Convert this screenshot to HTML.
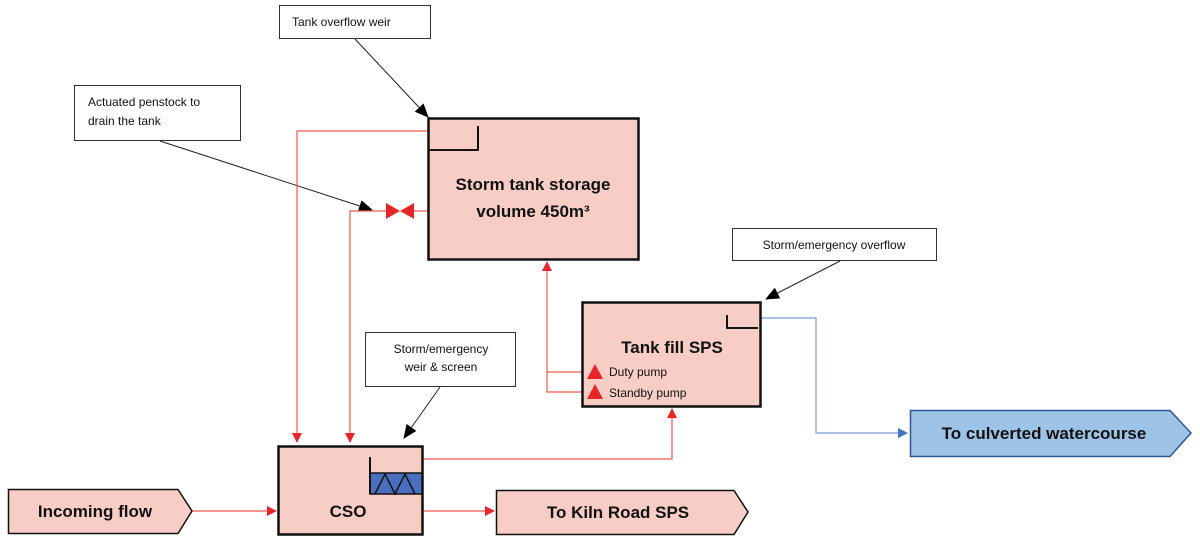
<!DOCTYPE html>
<html><head><style>
body{margin:0;background:#fff;}
svg{display:block;font-family:"Liberation Sans",Calibri,sans-serif;}
.lbl{font-size:12px;fill:#111;}
.big{font-size:17px;font-weight:bold;fill:#111;}
</style></head><body>
<svg width="1200" height="543" viewBox="0 0 1200 543" xmlns="http://www.w3.org/2000/svg">
<defs>
<marker id="ar" markerWidth="10" markerHeight="10" refX="9" refY="5" orient="auto" markerUnits="userSpaceOnUse"><path d="M0,0 L10,5 L0,10 z" fill="#e8262a"/></marker>
<marker id="ab" markerWidth="14" markerHeight="12" refX="13" refY="6" orient="auto" markerUnits="userSpaceOnUse"><path d="M0,0 L14,6 L0,12 z" fill="#000"/></marker>
<marker id="au" markerWidth="10" markerHeight="10" refX="9" refY="5" orient="auto" markerUnits="userSpaceOnUse"><path d="M0,0 L10,5 L0,10 z" fill="#4472c4"/></marker>
</defs>

<!-- callout boxes -->
<rect x="279.5" y="5.5" width="151" height="33" fill="#fff" stroke="#333"/>
<text class="lbl" x="292" y="26">Tank overflow weir</text>
<rect x="74.5" y="85.5" width="166" height="55" fill="#fff" stroke="#333"/>
<text class="lbl" x="88" y="106">Actuated penstock to</text>
<text class="lbl" x="88" y="125">drain the tank</text>
<rect x="732.5" y="228.5" width="204" height="32" fill="#fff" stroke="#333"/>
<text class="lbl" x="834" y="249" text-anchor="middle">Storm/emergency overflow</text>
<rect x="365.5" y="332.5" width="150" height="54" fill="#fff" stroke="#333"/>
<text class="lbl" x="441" y="353" text-anchor="middle">Storm/emergency</text>
<text class="lbl" x="441" y="371" text-anchor="middle">weir &amp; screen</text>

<!-- black arrows -->
<line x1="355" y1="39" x2="428" y2="117" stroke="#222" stroke-width="1" marker-end="url(#ab)"/>
<line x1="160" y1="141" x2="372" y2="210" stroke="#222" stroke-width="1" marker-end="url(#ab)"/>
<line x1="840" y1="261" x2="766" y2="299" stroke="#222" stroke-width="1" marker-end="url(#ab)"/>
<line x1="440" y1="387" x2="404" y2="438" stroke="#222" stroke-width="1" marker-end="url(#ab)"/>

<!-- red connectors -->
<polyline points="428,131 297,131 297,442" fill="none" stroke="#f0584f" stroke-width="1.2" marker-end="url(#ar)"/>
<polyline points="386,211 350,211 350,442" fill="none" stroke="#f0584f" stroke-width="1.2" marker-end="url(#ar)"/>
<line x1="414" y1="211" x2="428" y2="211" stroke="#f0584f" stroke-width="1.2"/>
<path d="M386,203 L400,211 L386,219 z M414,203 L400,211 L414,219 z" fill="#e8262a"/>
<polyline points="590,372 547,372 547,262" fill="none" stroke="#f0584f" stroke-width="1.2" marker-end="url(#ar)"/>
<polyline points="547,372 547,392 590,392" fill="none" stroke="#f0584f" stroke-width="1.2"/>
<polyline points="423,459 672,459 672,409" fill="none" stroke="#f0584f" stroke-width="1.2" marker-end="url(#ar)"/>
<line x1="186" y1="511" x2="276" y2="511" stroke="#f0584f" stroke-width="1.2" marker-end="url(#ar)"/>
<line x1="423" y1="511" x2="494" y2="511" stroke="#f0584f" stroke-width="1.2" marker-end="url(#ar)"/>
<polyline points="760,318 816,318 816,433 907,433" fill="none" stroke="#7b9ad6" stroke-width="1.2" marker-end="url(#au)"/>

<!-- storm tank -->
<rect x="428.5" y="118.5" width="210" height="141" fill="#f8cdc6" stroke="#111" stroke-width="2.5"/>
<polyline points="429,150 478,150 478,126" fill="none" stroke="#111" stroke-width="2"/>
<text class="big" x="533" y="190" text-anchor="middle">Storm tank storage</text>
<text class="big" x="533" y="217" text-anchor="middle">volume 450m³</text>

<!-- tank fill SPS -->
<rect x="582.5" y="302.5" width="178" height="104" fill="#f8cdc6" stroke="#111" stroke-width="2.5"/>
<polyline points="727,315 727,328 758,328" fill="none" stroke="#111" stroke-width="2"/>
<text class="big" x="672" y="353" text-anchor="middle">Tank fill SPS</text>
<path d="M587,379 L595,364 L603,379 z M587,399 L595,384 L603,399 z" fill="#e8262a"/>
<text class="lbl" x="609" y="376">Duty pump</text>
<text class="lbl" x="609" y="397">Standby pump</text>

<!-- CSO -->
<rect x="278.5" y="446.5" width="144" height="88" fill="#f8cdc6" stroke="#111" stroke-width="2.5"/>
<rect x="370" y="473" width="52" height="21" fill="#4a6fbf" stroke="#111" stroke-width="1.5"/>
<line x1="370" y1="457" x2="370" y2="494" stroke="#111" stroke-width="2"/>
<polyline points="375,494 385,474 395,494 405,474 415,494" fill="none" stroke="#111" stroke-width="1.5"/>
<text class="big" x="348" y="517" text-anchor="middle">CSO</text>

<!-- incoming -->
<path d="M8.5,489.5 L178,489.5 L192,511 L178,533.5 L8.5,533.5 z" fill="#f8cdc6" stroke="#111" stroke-width="1.5"/>
<text class="big" x="95" y="517" text-anchor="middle">Incoming flow</text>
<!-- kiln road -->
<path d="M496.5,490.5 L734,490.5 L748,512 L734,534.5 L496.5,534.5 z" fill="#f8cdc6" stroke="#111" stroke-width="1.5"/>
<text class="big" x="618" y="518" text-anchor="middle">To Kiln Road SPS</text>
<!-- culverted -->
<path d="M910.5,410.5 L1170,410.5 L1191,433 L1170,456.5 L910.5,456.5 z" fill="#9dc3e6" stroke="#2e5597" stroke-width="1.5"/>
<text class="big" x="1044" y="439" text-anchor="middle">To culverted watercourse</text>
</svg>
</body></html>
